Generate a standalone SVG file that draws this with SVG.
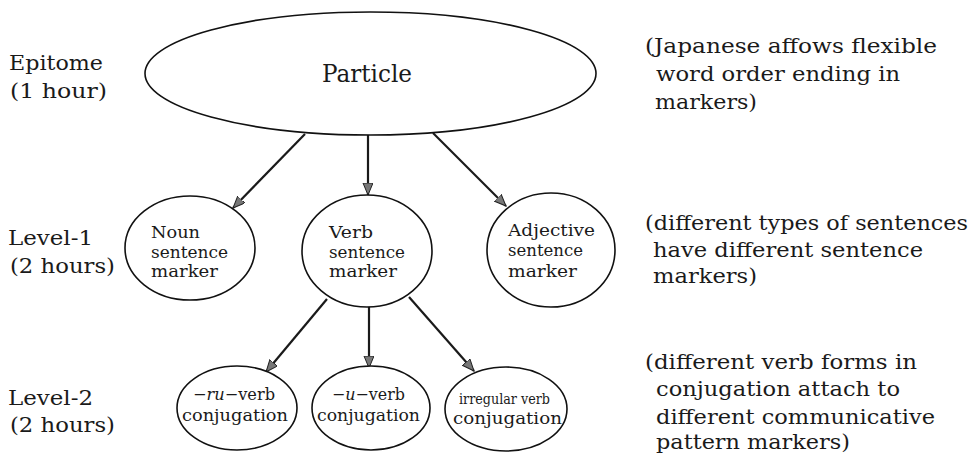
<svg xmlns="http://www.w3.org/2000/svg" width="977" height="455" viewBox="0 0 977 455" font-family="DejaVu Serif, Liberation Serif, serif">
<style>
text{fill:#1a1a1a;}
.lbl{font-size:21px;}
.note{font-size:20px;}
.node{font-size:17px;}
.big{font-size:24px;}
.sm{font-size:14px;}
ellipse{fill:#fff;stroke:#111;stroke-width:1.6;}
.conn line{stroke:#1a1a1a;stroke-width:2.2;marker-end:url(#arr);}
</style>
<defs>
<marker id="arr" markerUnits="userSpaceOnUse" markerWidth="14" markerHeight="12" refX="12" refY="5" orient="auto">
<path d="M0,0 L12,5 L0,10 Z" fill="#777" stroke="#222" stroke-width="1"/>
</marker>
</defs>
<rect width="977" height="455" fill="#fff"/>

<g id="levels">
<text class="lbl" x="9" y="70" textLength="94" lengthAdjust="spacingAndGlyphs">Epitome</text>
<text class="lbl" x="10" y="98" textLength="97" lengthAdjust="spacingAndGlyphs">(1 hour)</text>
<text class="lbl" x="8" y="245" textLength="85" lengthAdjust="spacingAndGlyphs">Level-1</text>
<text class="lbl" x="10" y="273" textLength="105" lengthAdjust="spacingAndGlyphs">(2 hours)</text>
<text class="lbl" x="8" y="405" textLength="85" lengthAdjust="spacingAndGlyphs">Level-2</text>
<text class="lbl" x="10" y="432" textLength="105" lengthAdjust="spacingAndGlyphs">(2 hours)</text>
</g>

<g id="notes">
<text class="note" x="645" y="53" textLength="292" lengthAdjust="spacingAndGlyphs">(Japanese affows flexible</text>
<text class="note" x="656" y="81" textLength="244" lengthAdjust="spacingAndGlyphs">word order ending in</text>
<text class="note" x="655" y="109" textLength="102" lengthAdjust="spacingAndGlyphs">markers)</text>
<text class="note" x="645" y="230" textLength="323" lengthAdjust="spacingAndGlyphs">(different types of sentences</text>
<text class="note" x="653" y="257" textLength="270" lengthAdjust="spacingAndGlyphs">have different  sentence</text>
<text class="note" x="653" y="283" textLength="104" lengthAdjust="spacingAndGlyphs">markers)</text>
<text class="note" x="645" y="369" textLength="272" lengthAdjust="spacingAndGlyphs">(different verb forms in</text>
<text class="note" x="656" y="396" textLength="244" lengthAdjust="spacingAndGlyphs">conjugation attach to</text>
<text class="note" x="656" y="424" textLength="279" lengthAdjust="spacingAndGlyphs">different communicative</text>
<text class="note" x="656" y="449" textLength="194" lengthAdjust="spacingAndGlyphs">pattern markers)</text>
</g>

<g class="conn" id="connectors">
<line x1="305" y1="134" x2="233" y2="208"/>
<line x1="368" y1="135" x2="368" y2="195"/>
<line x1="433" y1="133" x2="506" y2="206"/>
<line x1="327" y1="299" x2="266" y2="372"/>
<line x1="369" y1="307" x2="369" y2="368"/>
<line x1="409" y1="297" x2="474" y2="371"/>
</g>

<g id="particle">
<ellipse cx="370.5" cy="73.5" rx="225.5" ry="61.5"/>
<text class="big" x="322" y="82" textLength="90" lengthAdjust="spacingAndGlyphs">Particle</text>
</g>

<g id="noun">
<ellipse cx="190" cy="248" rx="65" ry="52"/>
<text class="node" x="151" y="238" textLength="49" lengthAdjust="spacingAndGlyphs">Noun</text>
<text class="node" x="151" y="258" textLength="77" lengthAdjust="spacingAndGlyphs">sentence</text>
<text class="node" x="151" y="277" textLength="67" lengthAdjust="spacingAndGlyphs">marker</text>
</g>

<g id="verb">
<ellipse cx="367" cy="251" rx="65" ry="56"/>
<text class="node" x="329" y="238" textLength="44" lengthAdjust="spacingAndGlyphs">Verb</text>
<text class="node" x="329" y="258" textLength="76" lengthAdjust="spacingAndGlyphs">sentence</text>
<text class="node" x="329" y="277" textLength="68" lengthAdjust="spacingAndGlyphs">marker</text>
</g>

<g id="adjective">
<ellipse cx="551" cy="250" rx="64" ry="57"/>
<text class="node" x="508" y="236" textLength="87" lengthAdjust="spacingAndGlyphs">Adjective</text>
<text class="node" x="508" y="256" textLength="75" lengthAdjust="spacingAndGlyphs">sentence</text>
<text class="node" x="508" y="277" textLength="69" lengthAdjust="spacingAndGlyphs">marker</text>
</g>

<g id="ru-verb">
<ellipse cx="237" cy="408" rx="60" ry="42"/>
<text class="node" x="193" y="400" textLength="82" lengthAdjust="spacingAndGlyphs">−<tspan font-style="italic">ru</tspan>−verb</text>
<text class="node" x="182" y="421" textLength="106" lengthAdjust="spacingAndGlyphs">conjugation</text>
</g>

<g id="u-verb">
<ellipse cx="371" cy="408" rx="59" ry="42"/>
<text class="node" x="332" y="400" textLength="73" lengthAdjust="spacingAndGlyphs">−<tspan font-style="italic">u</tspan>−verb</text>
<text class="node" x="317" y="421" textLength="103" lengthAdjust="spacingAndGlyphs">conjugation</text>
</g>

<g id="irregular">
<ellipse cx="506" cy="409" rx="61" ry="42"/>
<text class="sm" x="459" y="404" textLength="91" lengthAdjust="spacingAndGlyphs">irregular verb</text>
<text class="node" x="453" y="424" textLength="109" lengthAdjust="spacingAndGlyphs">conjugation</text>
</g>
</svg>
